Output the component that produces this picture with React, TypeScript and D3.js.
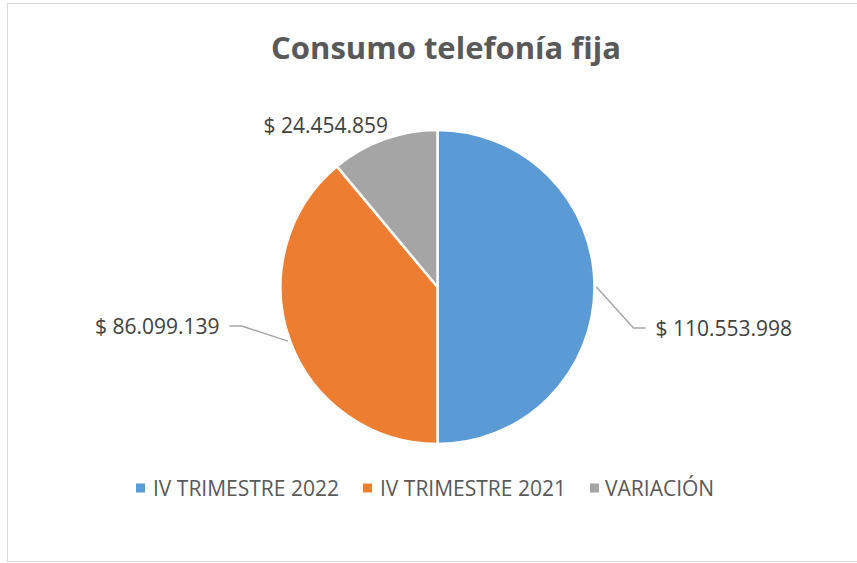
import React from 'react'
import * as d3 from 'd3'

const categories = ['IV TRIMESTRE 2022', 'IV TRIMESTRE 2021', 'VARIACIÓN']
const values = [110553998, 86099139, 24454859]
const colors = ['#5B9BD5', '#ED7D31', '#A5A5A5']
const valueLabels = ['$ 110.553.998', '$ 86.099.139', '$ 24.454.859']

const width = 857
const height = 563
const cx = 437.5
const cy = 287
const radius = 157

// label placement relative to pie centre: [x, y, anchor, leader?]
const labelLayout: [number, number, string, boolean][] = [
  [218, 43, 'start', true],
  [-218, 41, 'end', true],
  [-174, -160, 'start', false],
]

const fmtFont = "'Open Sans', 'DejaVu Sans', sans-serif"

export default function App() {
  const pie = d3.pie<number>().sort(null).value(d => d)
  const arcs = pie(values)
  const arc = d3.arc<d3.PieArcDatum<number>>().innerRadius(0).outerRadius(radius)

  const legendX = [136, 363, 590]
  const legendGap = [17, 17, 15]

  return (
    <svg width={width} height={height} style={{ position: 'absolute', left: 0, top: 0, background: '#fff' }}
      fontFamily={fmtFont}>
      <rect x={7.5} y={3.5} width={870} height={558} fill='#fff' stroke='#d9d9d9' strokeWidth={1} />
      <text x={446} y={59} textAnchor='middle' fontSize={31} fontWeight='bold' fill='#595959'>
        Consumo telefonía fija
      </text>

      <g transform={`translate(${cx},${cy})`}>
        {arcs.map((a, i) => (
          <path key={i} d={arc(a) || ''} fill={colors[i]} stroke='#fff' strokeWidth={2.5} strokeLinejoin='round' />
        ))}
        {arcs.map((a, i) => {
          const [lx, ly, anchor, leader] = labelLayout[i]
          const mid = (a.startAngle + a.endAngle) / 2
          const r0 = radius + 2
          const sx = r0 * Math.sin(mid)
          const sy = -r0 * Math.cos(mid)
          const dir = anchor === 'start' ? -1 : 1
          const hx = lx + dir * 10
          const ex = hx + dir * 12
          return (
            <g key={'l' + i}>
              {leader && (
                <polyline points={`${sx},${sy} ${ex},${ly - 2} ${hx},${ly - 2}`}
                  fill='none' stroke='#a6a6a6' strokeWidth={1.5} />
              )}
              <text x={lx} y={ly + 6} textAnchor={anchor} fontSize={21} fill='#404040'>
                {valueLabels[i]}
              </text>
            </g>
          )
        })}
      </g>

      <g>
        {categories.map((c, i) => (
          <g key={c} transform={`translate(${legendX[i]},488)`}>
            <rect x={0} y={-4.5} width={9} height={9} fill={colors[i]} />
            <text x={legendGap[i]} y={7.5} fontSize={21} fill='#595959'>{c}</text>
          </g>
        ))}
      </g>
    </svg>
  )
}
